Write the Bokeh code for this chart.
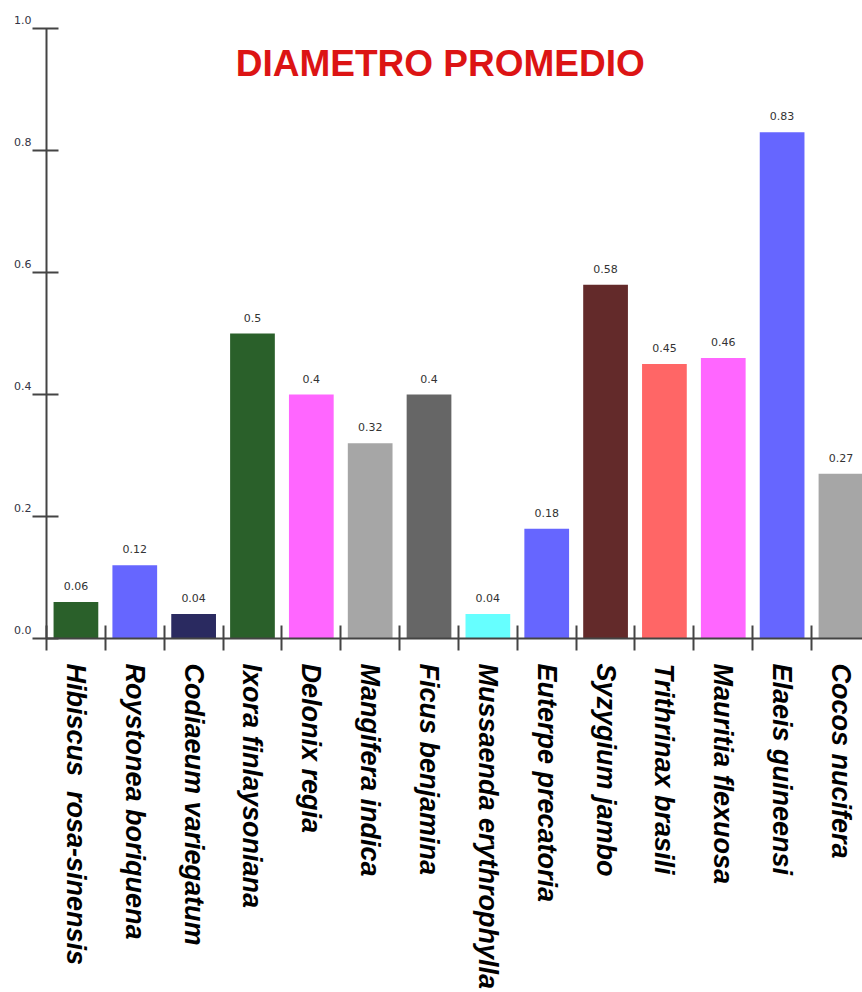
import math

from bokeh.core.properties import value
from bokeh.embed import file_html
from bokeh.models import ColumnDataSource, FixedTicker, Label, LinearAxis, Range1d
from bokeh.plotting import figure
from bokeh.resources import INLINE

# Average trunk diameter per species
species = [
    "Hibiscus \u00a0rosa-sinensis",
    "Roystonea boriquena",
    "Codiaeum variegatum",
    "Ixora finlaysoniana",
    "Delonix regia",
    "Mangifera indica",
    "Ficus benjamina",
    "Mussaenda erythrophylla",
    "Euterpe precatoria",
    "Syzygium jambo",
    "Trithrinax brasili",
    "Mauritia flexuosa",
    "Elaeis guineensi",
    "Cocos nucifera",
]
diameters = [0.06, 0.12, 0.04, 0.5, 0.4, 0.32, 0.4, 0.04, 0.18, 0.58, 0.45, 0.46, 0.83, 0.27]
bar_colors = [
    "#2a602a", "#6666ff", "#2a2a60", "#2a602a", "#ff66ff", "#a6a6a6", "#666666",
    "#66ffff", "#6666ff", "#632a2a", "#ff6666", "#ff66ff", "#6666ff", "#a6a6a6",
]
y_ticks = [0.0, 0.2, 0.4, 0.6, 0.8, 1.0]

AXIS_COLOR = "#444444"
NAME_FONT = "Liberation Sans"
NUM_FONT = "DejaVu Sans"

centers = [i + 0.5 for i in range(len(species))]
bounds = [float(i) for i in range(len(species) + 1)]

source = ColumnDataSource(dict(
    x=centers,
    top=diameters,
    color=bar_colors,
    label=[f"{v:g}" for v in diameters],
))

p = figure(
    width=862, height=992,
    output_backend="svg", toolbar_location=None,
    x_range=Range1d(0, 13.866), y_range=Range1d(0, 1.0),
    x_axis_type=None, y_axis_type=None,
    min_border_left=46, min_border_right=0, min_border_top=28, min_border_bottom=354,
)
p.outline_line_color = None
p.xgrid.visible = False
p.ygrid.visible = False
p.background_fill_color = "white"
p.border_fill_color = "white"

p.vbar(x="x", top="top", bottom=0, width=0.76, fill_color="color",
       line_color=None, source=source)

p.text(x="x", y="top", text="label", source=source,
       text_align="center", text_baseline="bottom", y_offset=-12,
       text_font=value(NUM_FONT), text_font_size="11px", text_color="#333333")

# Left axis: ticks cross the axis line, labels sit just above each tick
yaxis = LinearAxis(ticker=FixedTicker(ticks=y_ticks, minor_ticks=[]))
yaxis.major_label_overrides = {t: f"{t:.1f}\n" for t in y_ticks}
yaxis.axis_line_color = AXIS_COLOR
yaxis.axis_line_width = 2
yaxis.major_tick_line_color = AXIS_COLOR
yaxis.major_tick_line_width = 2
yaxis.major_tick_in = 12
yaxis.major_tick_out = 14
yaxis.minor_tick_line_color = None
yaxis.major_label_standoff = 1
yaxis.major_label_text_font = NUM_FONT
yaxis.major_label_text_font_size = "11px"
yaxis.major_label_text_color = "#333344"
p.add_layout(yaxis, "left")

# Bottom axis: separators between species, rotated species names under each bar
xaxis = LinearAxis(ticker=FixedTicker(ticks=centers, minor_ticks=bounds))
xaxis.major_label_overrides = {c: name for c, name in zip(centers, species)}
xaxis.axis_line_color = AXIS_COLOR
xaxis.axis_line_width = 2
xaxis.major_tick_line_color = None
xaxis.major_tick_in = 0
xaxis.major_tick_out = 0
xaxis.minor_tick_line_color = AXIS_COLOR
xaxis.minor_tick_line_width = 2
xaxis.minor_tick_in = 13
xaxis.minor_tick_out = 12
xaxis.major_label_orientation = -math.pi / 2
xaxis.major_label_standoff = 13
xaxis.major_label_text_font = NAME_FONT
xaxis.major_label_text_font_style = "bold italic"
xaxis.major_label_text_font_size = "27px"
xaxis.major_label_text_color = "black"
p.add_layout(xaxis, "below")

p.add_layout(Label(
    x=6.69, y=0.943, text="DIAMETRO PROMEDIO",
    text_align="center", text_baseline="middle",
    text_font=NAME_FONT, text_font_style="bold", text_font_size="37px",
    text_color="#dc1414",
))

open("out.html", "w").write(file_html(p, INLINE))
